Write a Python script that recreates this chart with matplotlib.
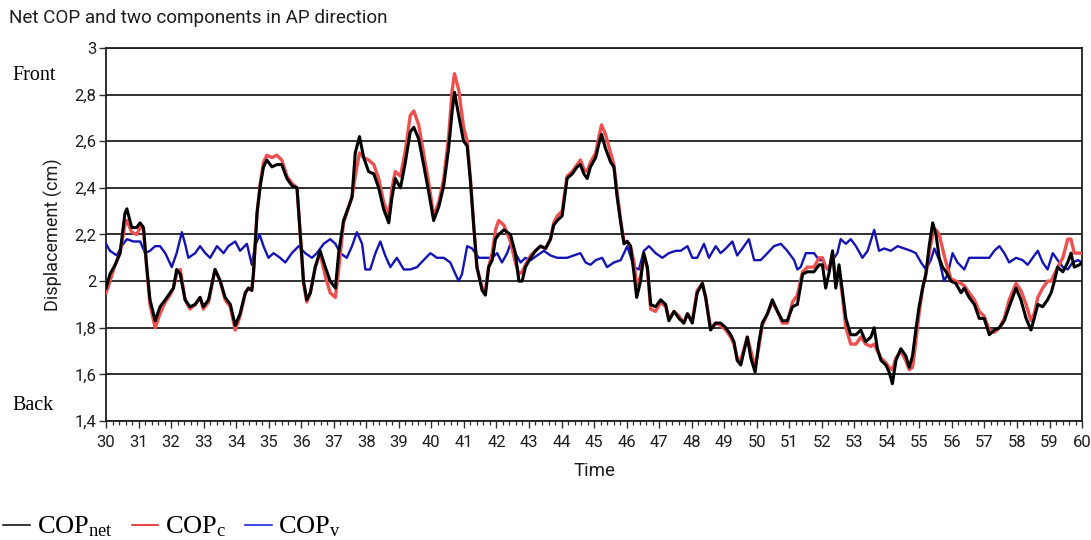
import matplotlib
matplotlib.use("Agg")
import matplotlib.pyplot as plt
from matplotlib.lines import Line2D
from matplotlib.ticker import MultipleLocator, FuncFormatter

plt.rcParams["mathtext.fontset"] = "custom"
plt.rcParams["mathtext.rm"] = "Liberation Serif"
plt.rcParams["mathtext.it"] = "Liberation Serif:italic"

# Net COP (black) and controlled component COPc (red), sampled at the same instants
t_net = [30.0, 30.12, 30.28, 30.43, 30.58, 30.64, 30.79, 30.94, 31.05, 31.15, 31.25, 31.35, 31.51, 31.66,
         31.82, 31.97, 32.07, 32.17, 32.28, 32.43, 32.58, 32.74, 32.89, 32.99, 33.15, 33.35, 33.51, 33.66,
         33.82, 33.97, 34.12, 34.28, 34.38, 34.48, 34.53, 34.64, 34.74, 34.84, 34.94, 35.10, 35.25, 35.40,
         35.56, 35.71, 35.87, 35.97, 36.07, 36.17, 36.28, 36.43, 36.58, 36.74, 36.89, 37.05, 37.15, 37.30,
         37.46, 37.56, 37.66, 37.79, 37.92, 38.07, 38.23, 38.38, 38.53, 38.69, 38.79, 38.89, 39.05, 39.20,
         39.35, 39.46, 39.61, 39.76, 39.92, 40.07, 40.23, 40.38, 40.53, 40.64, 40.71, 40.84, 40.99, 41.10,
         41.20, 41.30, 41.40, 41.56, 41.66, 41.76, 41.87, 41.97, 42.07, 42.23, 42.43, 42.58, 42.69, 42.79,
         42.89, 43.05, 43.20, 43.35, 43.51, 43.66, 43.76, 43.87, 44.02, 44.17, 44.33, 44.48, 44.58, 44.69,
         44.79, 44.89, 45.05, 45.15, 45.23, 45.35, 45.51, 45.61, 45.71, 45.82, 45.92, 46.02, 46.12, 46.23,
         46.31, 46.43, 46.53, 46.64, 46.74, 46.89, 47.05, 47.20, 47.30, 47.46, 47.61, 47.76, 47.87, 48.02,
         48.17, 48.33, 48.43, 48.58, 48.74, 48.89, 49.05, 49.20, 49.30, 49.40, 49.51, 49.61, 49.71, 49.82,
         49.95, 50.07, 50.17, 50.33, 50.48, 50.64, 50.79, 50.94, 51.10, 51.25, 51.41, 51.56, 51.76, 51.92,
         52.02, 52.12, 52.23, 52.33, 52.43, 52.53, 52.64, 52.74, 52.89, 53.05, 53.20, 53.35, 53.51, 53.61,
         53.71, 53.82, 53.97, 54.07, 54.17, 54.28, 54.43, 54.58, 54.69, 54.79, 54.89, 54.99, 55.10, 55.20,
         55.30, 55.41, 55.51, 55.61, 55.71, 55.82, 55.97, 56.12, 56.28, 56.38, 56.53, 56.69, 56.84, 56.99,
         57.15, 57.30, 57.46, 57.61, 57.76, 57.97, 58.12, 58.28, 58.43, 58.53, 58.64, 58.79, 58.94, 59.05,
         59.15, 59.25, 59.41, 59.56, 59.66, 59.76, 59.92, 60.0]

cop_net = [1.97, 2.03, 2.07, 2.12, 2.29, 2.31, 2.23, 2.23, 2.25, 2.23, 2.06, 1.92, 1.83, 1.89,
           1.92, 1.95, 1.97, 2.05, 2.03, 1.92, 1.89, 1.90, 1.93, 1.89, 1.92, 2.05, 2.00, 1.93,
           1.90, 1.81, 1.86, 1.95, 1.97, 1.96, 2.03, 2.29, 2.41, 2.49, 2.52, 2.49, 2.50, 2.50,
           2.44, 2.41, 2.40, 2.20, 2.00, 1.92, 1.95, 2.06, 2.13, 2.06, 2.00, 1.97, 2.12, 2.26,
           2.32, 2.36, 2.55, 2.62, 2.53, 2.47, 2.46, 2.40, 2.31, 2.25, 2.36, 2.44, 2.40, 2.51,
           2.64, 2.66, 2.61, 2.50, 2.38, 2.26, 2.32, 2.41, 2.57, 2.73, 2.81, 2.71, 2.60, 2.58,
           2.43, 2.24, 2.06, 1.96, 1.94, 2.06, 2.09, 2.18, 2.20, 2.22, 2.20, 2.12, 2.00, 2.00,
           2.06, 2.10, 2.13, 2.15, 2.14, 2.18, 2.24, 2.26, 2.28, 2.44, 2.46, 2.49, 2.50, 2.46,
           2.44, 2.49, 2.53, 2.59, 2.63, 2.57, 2.51, 2.49, 2.36, 2.25, 2.16, 2.17, 2.15, 2.03,
           1.93, 2.00, 2.12, 2.06, 1.90, 1.89, 1.92, 1.90, 1.83, 1.87, 1.84, 1.82, 1.86, 1.82,
           1.95, 1.99, 1.93, 1.79, 1.82, 1.82, 1.80, 1.77, 1.74, 1.66, 1.64, 1.70, 1.76, 1.67,
           1.61, 1.74, 1.82, 1.86, 1.92, 1.87, 1.83, 1.83, 1.89, 1.90, 2.03, 2.04, 2.04, 2.07,
           2.07, 1.97, 2.04, 2.13, 1.97, 2.07, 1.95, 1.84, 1.77, 1.77, 1.79, 1.74, 1.76, 1.80,
           1.71, 1.66, 1.64, 1.61, 1.56, 1.66, 1.71, 1.68, 1.63, 1.68, 1.79, 1.89, 1.97, 2.03,
           2.15, 2.25, 2.20, 2.10, 2.06, 2.04, 2.00, 1.99, 1.95, 1.97, 1.93, 1.90, 1.84, 1.84,
           1.77, 1.79, 1.80, 1.83, 1.89, 1.97, 1.92, 1.84, 1.79, 1.84, 1.90, 1.89, 1.92, 1.95,
           2.00, 2.06, 2.04, 2.08, 2.12, 2.06, 2.07, 2.08]

cop_c = [1.95, 2.00, 2.07, 2.12, 2.24, 2.26, 2.21, 2.20, 2.23, 2.22, 2.06, 1.90, 1.80, 1.86,
         1.91, 1.94, 1.97, 2.03, 2.05, 1.92, 1.88, 1.90, 1.93, 1.88, 1.91, 2.05, 2.00, 1.92,
         1.89, 1.79, 1.85, 1.95, 1.97, 1.96, 2.03, 2.29, 2.42, 2.51, 2.54, 2.53, 2.54, 2.52,
         2.45, 2.42, 2.40, 2.20, 1.99, 1.91, 1.95, 2.06, 2.12, 2.02, 1.95, 1.93, 2.05, 2.25,
         2.32, 2.36, 2.45, 2.55, 2.53, 2.52, 2.50, 2.44, 2.34, 2.28, 2.40, 2.47, 2.45, 2.56,
         2.71, 2.73, 2.67, 2.55, 2.42, 2.28, 2.34, 2.44, 2.62, 2.82, 2.89, 2.82, 2.66, 2.60,
         2.44, 2.24, 2.06, 1.97, 1.96, 2.06, 2.12, 2.22, 2.26, 2.24, 2.17, 2.08, 2.03, 2.04,
         2.07, 2.11, 2.13, 2.15, 2.14, 2.18, 2.25, 2.28, 2.30, 2.45, 2.47, 2.50, 2.52, 2.48,
         2.47, 2.51, 2.55, 2.62, 2.67, 2.63, 2.55, 2.50, 2.38, 2.26, 2.17, 2.17, 2.15, 2.08,
         1.98, 2.02, 2.11, 2.05, 1.88, 1.87, 1.91, 1.89, 1.84, 1.87, 1.85, 1.82, 1.86, 1.83,
         1.96, 1.99, 1.93, 1.80, 1.82, 1.81, 1.79, 1.76, 1.73, 1.67, 1.66, 1.71, 1.76, 1.70,
         1.63, 1.72, 1.81, 1.86, 1.91, 1.87, 1.82, 1.82, 1.91, 1.94, 2.04, 2.06, 2.06, 2.10,
         2.10, 2.06, 2.05, 2.12, 2.00, 2.05, 1.93, 1.80, 1.73, 1.73, 1.76, 1.73, 1.72, 1.73,
         1.70, 1.67, 1.65, 1.63, 1.62, 1.67, 1.70, 1.66, 1.62, 1.63, 1.74, 1.86, 1.97, 2.03,
         2.12, 2.20, 2.22, 2.20, 2.14, 2.08, 2.01, 2.00, 1.99, 1.98, 1.95, 1.92, 1.87, 1.85,
         1.79, 1.78, 1.80, 1.84, 1.92, 1.99, 1.96, 1.90, 1.83, 1.86, 1.93, 1.97, 2.00, 2.00,
         2.03, 2.06, 2.10, 2.18, 2.18, 2.12, 2.12, 2.12]

# Visual component COPv (blue)
t_v = [30.0, 30.12, 30.33, 30.48, 30.64, 30.84, 31.05, 31.20, 31.35, 31.51, 31.66, 31.82, 32.02, 32.17,
       32.33, 32.43, 32.53, 32.74, 32.89, 33.05, 33.20, 33.41, 33.61, 33.76, 33.97, 34.12, 34.33, 34.48,
       34.58, 34.72, 34.84, 34.99, 35.15, 35.35, 35.51, 35.71, 35.92, 36.12, 36.33, 36.48, 36.69, 36.89,
       37.05, 37.20, 37.40, 37.56, 37.71, 37.87, 37.97, 38.12, 38.28, 38.43, 38.58, 38.74, 38.94, 39.15,
       39.35, 39.56, 39.76, 39.97, 40.17, 40.38, 40.58, 40.74, 40.84, 40.94, 41.10, 41.25, 41.46, 41.66,
       41.87, 42.02, 42.17, 42.33, 42.43, 42.58, 42.74, 42.89, 43.05, 43.25, 43.46, 43.66, 43.87, 43.97,
       44.17, 44.38, 44.58, 44.74, 44.89, 45.05, 45.25, 45.40, 45.61, 45.82, 46.02, 46.23, 46.38, 46.53,
       46.69, 46.89, 47.10, 47.30, 47.51, 47.66, 47.87, 48.02, 48.17, 48.38, 48.53, 48.74, 48.89, 49.05,
       49.25, 49.40, 49.56, 49.76, 49.92, 50.12, 50.33, 50.53, 50.74, 50.94, 51.15, 51.25, 51.35, 51.51,
       51.76, 51.92, 52.02, 52.17, 52.33, 52.48, 52.58, 52.74, 52.89, 53.05, 53.25, 53.41, 53.61, 53.76,
       53.92, 54.12, 54.33, 54.53, 54.74, 54.89, 55.05, 55.20, 55.35, 55.46, 55.61, 55.76, 55.87, 56.02,
       56.17, 56.38, 56.53, 56.74, 56.94, 57.15, 57.30, 57.46, 57.61, 57.76, 57.97, 58.17, 58.33, 58.48,
       58.64, 58.79, 58.94, 59.10, 59.25, 59.41, 59.56, 59.71, 59.87, 60.0]

cop_v = [2.16, 2.13, 2.11, 2.15, 2.18, 2.17, 2.17, 2.12, 2.13, 2.15, 2.15, 2.12, 2.06, 2.12,
         2.21, 2.16, 2.10, 2.12, 2.15, 2.12, 2.10, 2.15, 2.12, 2.15, 2.17, 2.13, 2.16, 2.07,
         2.15, 2.20, 2.15, 2.10, 2.12, 2.10, 2.08, 2.12, 2.15, 2.12, 2.10, 2.12, 2.16, 2.18,
         2.16, 2.12, 2.10, 2.15, 2.21, 2.16, 2.05, 2.05, 2.12, 2.17, 2.11, 2.06, 2.10, 2.05,
         2.05, 2.06, 2.09, 2.12, 2.10, 2.10, 2.08, 2.03, 2.00, 2.03, 2.15, 2.14, 2.10, 2.10,
         2.10, 2.12, 2.08, 2.12, 2.16, 2.12, 2.08, 2.10, 2.09, 2.11, 2.13, 2.11, 2.10, 2.10,
         2.10, 2.11, 2.12, 2.08, 2.07, 2.09, 2.10, 2.06, 2.08, 2.09, 2.15, 2.06, 2.05, 2.13,
         2.15, 2.12, 2.10, 2.12, 2.13, 2.13, 2.15, 2.10, 2.10, 2.16, 2.10, 2.15, 2.12, 2.14,
         2.17, 2.11, 2.14, 2.18, 2.09, 2.09, 2.12, 2.15, 2.16, 2.13, 2.09, 2.05, 2.06, 2.12,
         2.12, 2.09, 2.09, 2.05, 2.09, 2.12, 2.18, 2.16, 2.18, 2.15, 2.10, 2.13, 2.22, 2.13,
         2.14, 2.13, 2.15, 2.14, 2.13, 2.12, 2.08, 2.05, 2.09, 2.14, 2.09, 2.00, 2.03, 2.12,
         2.08, 2.05, 2.10, 2.10, 2.10, 2.10, 2.13, 2.15, 2.12, 2.08, 2.10, 2.09, 2.07, 2.10,
         2.13, 2.08, 2.05, 2.12, 2.09, 2.06, 2.05, 2.08, 2.09, 2.08]

y_ticks = [1.4, 1.6, 1.8, 2.0, 2.2, 2.4, 2.6, 2.8, 3.0]
x_ticks = list(range(30, 61))

fig = plt.figure(figsize=(10.91, 5.40), dpi=100)
ax = fig.add_axes([0.0972, 0.2204, 0.8946, 0.6907])

ui_font = "Roboto"
text_col = "#1e1e1e"

ax.plot(t_v, cop_v, color="#1414b4", lw=1.7, zorder=3)
ax.plot(t_net, cop_c, color="#ee5050", lw=2.4, zorder=4)
ax.plot(t_net, cop_net, color="black", lw=2.2, zorder=5)

ax.set_xlim(30, 60)
ax.set_ylim(1.4, 3.0)
ax.set_yticks(y_ticks)
ax.set_xticks(x_ticks)
ax.xaxis.set_minor_locator(MultipleLocator(0.2))
ax.yaxis.set_major_formatter(FuncFormatter(lambda v, p: f"{v:g}".replace(".", ",")))
ax.yaxis.grid(True, color="#202020", lw=1.3)
ax.set_axisbelow(True)

for s in ax.spines.values():
    s.set_linewidth(1.3)
    s.set_color("#202020")

ax.tick_params(axis="both", which="major", direction="out", length=5, width=1.0,
               color="#303030", labelsize=12, labelcolor=text_col)
ax.tick_params(axis="x", which="major", pad=5)
ax.tick_params(axis="y", which="major", pad=2)
ax.tick_params(axis="x", which="minor", direction="out", length=3, width=0.9, color="#303030")
for lab in ax.get_xticklabels() + ax.get_yticklabels():
    lab.set_fontfamily(ui_font)

ax.set_ylabel("Displacement (cm)", fontsize=13, fontfamily=ui_font, color=text_col, labelpad=8)
ax.set_xlabel("Time", fontsize=13.5, fontfamily=ui_font, color=text_col, labelpad=9)

fig.text(0.008, 0.967, "Net COP and two components in AP direction", fontsize=13.6,
         fontfamily=ui_font, color=text_col, va="center", ha="left")
fig.text(0.011, 0.861, "Front", fontsize=14.5, fontfamily="Liberation Serif", color="black",
         va="center", ha="left")
fig.text(0.011, 0.250, "Back", fontsize=14.5, fontfamily="Liberation Serif", color="black",
         va="center", ha="left")

# Legend row drawn along the bottom of the figure
legend_items = [("black", "COP$_{\\mathrm{net}}$", 0.003, 0.0275, 0.034),
                ("#e01010", "COP$_{\\mathrm{c}}$", 0.121, 0.145, 0.151),
                ("#1010e0", "COP$_{\\mathrm{v}}$", 0.2245, 0.249, 0.255)]
for col, lab, x0, x1, xt in legend_items:
    fig.add_artist(Line2D([x0, x1], [0.0278, 0.0278], transform=fig.transFigure,
                          color=col, lw=1.1))
    fig.text(xt, 0.013, lab, fontsize=19, fontfamily="Liberation Serif", color="black",
             va="baseline", ha="left")

fig.savefig("out.png", dpi=100)
